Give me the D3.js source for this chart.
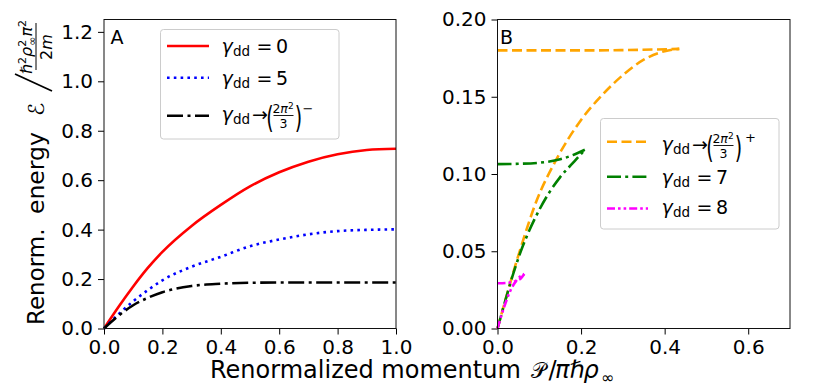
<!DOCTYPE html>
<html><head><meta charset="utf-8">
<script src="https://cdn.jsdelivr.net/npm/d3@7"></script>
<style>body{margin:0;background:#fff} text{font-family:"DejaVu Sans",sans-serif;fill:#000}</style>
</head><body><svg id="c" width="831" height="387"></svg>
<script>
// ---------- data ----------
const ticksAx = [0, 0.2, 0.4, 0.6, 0.8, 1.0];
const ticksAy = [0, 0.2, 0.4, 0.6, 0.8, 1.0, 1.2];
const ticksBx = [0, 0.2, 0.4, 0.6];
const ticksBy = [0, 0.05, 0.10, 0.15, 0.20];

const momentumA = [0, 0.05, 0.1, 0.15, 0.2, 0.3, 0.4, 0.5, 0.6, 0.7, 0.8, 0.9, 1.0];
const energyGamma0 = [0, 0.088, 0.17, 0.245, 0.31, 0.415, 0.50, 0.575, 0.632, 0.675, 0.705, 0.722, 0.727];
const energyGamma5 = [0, 0.058, 0.11, 0.155, 0.195, 0.25, 0.29, 0.333, 0.36, 0.381, 0.394, 0.399, 0.401];
const energyCritMinus = [0, 0.052, 0.094, 0.124, 0.147, 0.172, 0.181, 0.185, 0.186, 0.186, 0.186, 0.186, 0.186];

const momentumCritPlusUpper = [0, 0.1, 0.2, 0.3, 0.38, 0.435];
const energyCritPlusUpper = [0.180, 0.180, 0.180, 0.1802, 0.1806, 0.181];
const momentumCritPlusLower = [0, 0.054, 0.094, 0.138, 0.2, 0.25, 0.3, 0.35, 0.4, 0.435];
const energyCritPlusLower = [0, 0.0508, 0.083, 0.108, 0.135, 0.151, 0.164, 0.174, 0.1795, 0.181];

const momentumGamma7Upper = [0, 0.05, 0.1, 0.15, 0.18, 0.209];
const energyGamma7Upper = [0.1064, 0.1066, 0.1073, 0.1095, 0.1122, 0.1157];
const momentumGamma7Lower = [0, 0.054, 0.1, 0.15, 0.18, 0.209];
const energyGamma7Lower = [0, 0.0486, 0.0768, 0.098, 0.107, 0.1157];

const momentumGamma8Upper = [0, 0.02, 0.04, 0.055, 0.064];
const energyGamma8Upper = [0.0293, 0.0295, 0.0304, 0.0322, 0.0353];
const momentumGamma8Lower = [0, 0.016, 0.03, 0.045, 0.064];
const energyGamma8Lower = [0, 0.014, 0.024, 0.031, 0.0353];

// ---------- setup ----------
const svg = d3.select("#c");
const xA = d3.scaleLinear([0, 1], [104, 396]);
const yA = d3.scaleLinear([0, 1.25], [328.5, 19.5]);
const xB = d3.scaleLinear([0, 0.7], [497.5, 790]);
const yB = d3.scaleLinear([0, 0.2], [328.5, 19.5]);

function axes(x, y, xt, yt, xf, yf) {
  const gx = svg.append("g").attr("transform", `translate(0,${y.range()[0]})`)
    .call(d3.axisBottom(x).tickValues(xt).tickFormat(d3.format(xf)).tickSize(6).tickPadding(5).tickSizeOuter(0));
  const gy = svg.append("g").attr("transform", `translate(${x.range()[0]},0)`)
    .call(d3.axisLeft(y).tickValues(yt).tickFormat(d3.format(yf)).tickSize(6).tickPadding(5).tickSizeOuter(0));
  [gx, gy].forEach(g => {
    g.select(".domain").remove();
    g.selectAll("text").attr("font-size", 20).attr("font-family", "DejaVu Sans");
    g.selectAll("line").attr("stroke", "#000");
  });
}
axes(xA, yA, ticksAx, ticksAy, ".1f", ".1f");
axes(xB, yB, ticksBx, ticksBy, ".1f", ".2f");

function frame(x, y) {
  svg.append("rect").attr("x", x.range()[0]).attr("y", y.range()[1])
    .attr("width", x.range()[1] - x.range()[0]).attr("height", y.range()[0] - y.range()[1])
    .attr("fill", "none").attr("stroke", "#111").attr("stroke-width", 1);
}

function curve(x, y, xs, ys, color, dash) {
  const line = d3.line().x(d => x(d[0])).y(d => y(d[1])).curve(d3.curveMonotoneX);
  svg.append("path").datum(xs.map((v, i) => [v, ys[i]])).attr("d", line)
    .attr("fill", "none").attr("stroke", color).attr("stroke-width", 2.6)
    .attr("stroke-dasharray", dash);
}

const dashes = {
  solid: null, dotted: "2.6,4.2", dashdotBlack: "16,4.5,3,4.5",
  dashed: "10,4.5", dashdotGreen: "14,4.2,3,4.2", dashdotdot: "8,3,2.6,3,2.6,3"
};

curve(xA, yA, momentumA, energyGamma0, "#ff0000", dashes.solid);
curve(xA, yA, momentumA, energyGamma5, "#0000ff", dashes.dotted);
curve(xA, yA, momentumA, energyCritMinus, "#000000", dashes.dashdotBlack);

curve(xB, yB, momentumCritPlusUpper, energyCritPlusUpper, "#ffa500", dashes.dashed);
curve(xB, yB, momentumCritPlusLower, energyCritPlusLower, "#ffa500", dashes.dashed);
curve(xB, yB, momentumGamma7Upper, energyGamma7Upper, "#008000", dashes.dashdotGreen);
curve(xB, yB, momentumGamma7Lower, energyGamma7Lower, "#008000", dashes.dashdotGreen);
curve(xB, yB, momentumGamma8Upper, energyGamma8Upper, "#ff00ff", dashes.dashdotdot);
curve(xB, yB, momentumGamma8Lower, energyGamma8Lower, "#ff00ff", dashes.dashdotdot);

frame(xA, yA);
frame(xB, yB);

// panel letters
svg.append("text").attr("x", 110.5).attr("y", 44).attr("font-size", 19).text("A");
svg.append("text").attr("x", 500).attr("y", 44).attr("font-size", 19).text("B");

// ---------- legend ----------
const LF = 19;
function gammaStart(g, x0, b) {
  const t = g.append("text").attr("x", x0).attr("y", b).attr("font-size", LF);
  t.append("tspan").attr("font-style", "italic").text("γ");
  t.append("tspan").attr("x", x0 + 11.5).attr("dy", 3).attr("font-size", 13.5).text("dd");
}
function simpleLabel(g, x0, b, val) {
  gammaStart(g, x0, b);
  g.append("text").attr("x", x0 + 35).attr("y", b).attr("font-size", LF).text("=");
  g.append("text").attr("x", x0 + 54.5).attr("y", b).attr("font-size", LF).text(val);
}
function paren(g, cx, b, ch) {
  g.append("text").attr("transform", `translate(${cx},${b + 6.5}) scale(1,1.55)`)
    .attr("font-size", 19).attr("text-anchor", "middle").text(ch);
}
function critLabel(g, x0, b, sign) {
  gammaStart(g, x0, b);
  g.append("text").attr("x", x0 + 30.5).attr("y", b).attr("font-size", LF).text("→");
  paren(g, x0 + 48.5, b, "(");
  paren(g, x0 + 77, b, ")");
  const num = g.append("text").attr("x", x0 + 61.5).attr("y", b - 8.5).attr("font-size", 12.5).attr("text-anchor", "middle");
  num.append("tspan").text("2");
  num.append("tspan").attr("font-style", "italic").text("π");
  num.append("tspan").attr("dy", -4).attr("font-size", 9).text("2");
  g.append("line").attr("x1", x0 + 52).attr("x2", x0 + 72).attr("y1", b - 5.5).attr("y2", b - 5.5)
    .attr("stroke", "#000").attr("stroke-width", 0.9);
  g.append("text").attr("x", x0 + 62).attr("y", b + 7).attr("font-size", 12.5).attr("text-anchor", "middle").text("3");
  g.append("text").attr("x", x0 + (sign === "+" ? 89 : 86.5)).attr("y", b - (sign === "+" ? 9.5 : 8.5))
    .attr("font-size", 13).attr("text-anchor", "middle").text(sign === "+" ? "+" : "−");
}

function legendBox(x, y, w, h) {
  svg.append("rect").attr("x", x).attr("y", y).attr("width", w).attr("height", h).attr("rx", 3)
    .attr("fill", "#fff").attr("fill-opacity", 0.8).attr("stroke", "#cccccc").attr("stroke-width", 1);
}
function legendLine(x1, x2, y, color, dash) {
  svg.append("line").attr("x1", x1).attr("x2", x2).attr("y1", y).attr("y2", y)
    .attr("stroke", color).attr("stroke-width", 2.6).attr("stroke-dasharray", dash);
}

legendBox(160.5, 29.5, 178.5, 109.5);
legendLine(167, 209, 46, "#ff0000", dashes.solid);
legendLine(167, 209, 77.7, "#0000ff", dashes.dotted);
legendLine(167, 209, 115.7, "#000000", dashes.dashdotBlack);
simpleLabel(svg, 221.5, 53.3, "0");
simpleLabel(svg, 221.5, 85, "5");
critLabel(svg, 221.5, 121, "−");

legendBox(600.5, 118.5, 178.5, 110.5);
legendLine(607, 648, 141.7, "#ffa500", dashes.dashed);
legendLine(607, 648, 176.7, "#008000", dashes.dashdotGreen);
legendLine(607, 648, 208.5, "#ff00ff", dashes.dashdotdot);
critLabel(svg, 661.5, 151, "+");
simpleLabel(svg, 661.5, 183.5, "7");
simpleLabel(svg, 661.5, 213.5, "8");

// ---------- axis labels ----------
const XL = 24, XB = 378;
svg.append("text").attr("x", 210).attr("y", XB).attr("font-size", XL).text("Renormalized momentum");
svg.append("text").attr("x", 531).attr("y", XB).attr("font-size", 22)
  .attr("textLength", 15).attr("lengthAdjust", "spacingAndGlyphs").text("𝒫");
svg.append("text").attr("x", 548.5).attr("y", XB).attr("font-size", XL).text("/");
svg.append("text").attr("x", 555).attr("y", XB).attr("font-size", XL).attr("font-style", "italic").text("π");
svg.append("text").attr("x", 569.5).attr("y", XB).attr("font-size", XL).text("ℏ");
svg.append("text").attr("x", 583.5).attr("y", XB).attr("font-size", XL).attr("font-style", "italic").text("ρ");
svg.append("text").attr("x", 601).attr("y", XB + 5).attr("font-size", 16).text("∞");

const yl = svg.append("g").attr("transform", "translate(44,328) rotate(-90)");
yl.append("text").attr("x", 3).attr("y", 0).attr("font-size", 23).text("Renorm.");
yl.append("text").attr("x", 114).attr("y", 0).attr("font-size", 23.5).text("energy");
yl.append("text").attr("x", 212).attr("y", 0).attr("font-size", 22).attr("font-style", "italic").text("ℰ");
yl.append("line").attr("x1", 237).attr("y1", 8).attr("x2", 254).attr("y2", -29)
  .attr("stroke", "#000").attr("stroke-width", 1.8);
const yn = yl.append("text").attr("x", 281).attr("y", -12).attr("font-size", 16).attr("text-anchor", "middle");
yn.append("tspan").text("ℏ");
yn.append("tspan").attr("dy", -6).attr("font-size", 11).text("2");
yn.append("tspan").attr("dy", 6).attr("font-style", "italic").text("ρ");
yn.append("tspan").attr("dy", -6).attr("font-size", 11).text("2");
yn.append("tspan").attr("dx", -6).attr("dy", 10).attr("font-size", 11).text("∞");
yn.append("tspan").attr("dy", -4).attr("font-style", "italic").text("π");
yn.append("tspan").attr("dy", -6).attr("font-size", 11).text("2");
yl.append("line").attr("x1", 258).attr("x2", 305).attr("y1", -8).attr("y2", -8).attr("stroke", "#000").attr("stroke-width", 1);
const yd = yl.append("text").attr("x", 281).attr("y", 8).attr("font-size", 16).attr("text-anchor", "middle");
yd.append("tspan").text("2");
yd.append("tspan").attr("font-style", "italic").text("m");
</script></body></html>
